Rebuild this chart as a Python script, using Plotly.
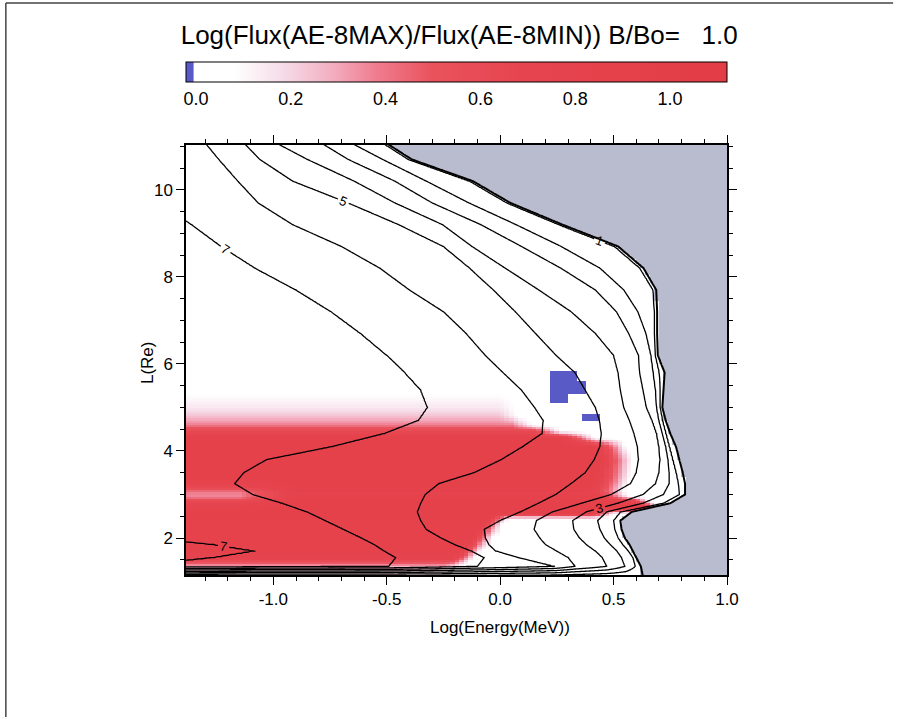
import numpy as np
import plotly.graph_objects as go

# ---------------- data ----------------
# rows (L, Earth radii) at which the flux contour crossings were read
L_rows = [1.35, 1.55, 1.70, 1.85, 2.00, 2.20, 2.40, 2.60, 2.80, 3.00, 3.25, 3.50,
          3.80, 4.10, 4.40, 4.70, 5.00, 5.40, 5.80, 6.20, 6.70, 7.20, 7.70, 8.20,
          8.70, 9.20, 9.70, 10.20, 10.70, 11.05]
# Log(Energy) where the log-flux contour of each level crosses each row
e7 = [-0.49, -0.46, -0.51, -0.555, -0.61, -0.69, -0.77, -0.85, -0.96, -1.09, -1.17, -1.13,
      -1.03, -0.74, -0.51, -0.36, -0.32, -0.35, -0.42, -0.50, -0.615, -0.745, -0.90, -1.08,
      -1.23, -1.36, -1.50, -1.65, -1.80, -1.90]
e6 = [-0.10, -0.07, -0.125, -0.20, -0.26, -0.326, -0.35, -0.365, -0.35, -0.33, -0.27, -0.115,
      0.005, 0.10, 0.185, 0.19, 0.152, 0.094, 0.013, -0.066, -0.15, -0.25, -0.40, -0.53,
      -0.70, -0.915, -1.067, -1.156, -1.24, -1.295]
e5 = [0.24, 0.08, -0.02, -0.05, -0.065, -0.07, 0.0, 0.09, 0.17, 0.246, 0.313, 0.375,
      0.415, 0.44, 0.446, 0.438, 0.42, 0.375, 0.33, 0.246, 0.156, 0.067, -0.03, -0.134,
      -0.25, -0.446, -0.67, -0.915, -1.06, -1.125]
e4 = [0.33, 0.30, 0.25, 0.20, 0.175, 0.15, 0.16, 0.23, 0.36, 0.49, 0.575, 0.60,
      0.61, 0.605, 0.59, 0.57, 0.545, 0.53, 0.52, 0.50, 0.42, 0.313, 0.17, 0.022,
      -0.125, -0.254, -0.464, -0.643, -0.85, -0.978]
e3 = [0.47, 0.45, 0.42, 0.38, 0.35, 0.325, 0.32, 0.38, 0.52, 0.63, 0.685, 0.70,
      0.705, 0.70, 0.69, 0.67, 0.645, 0.63, 0.615, 0.61, 0.567, 0.513, 0.42, 0.268,
      0.094, -0.085, -0.30, -0.464, -0.67, -0.78]
e2 = [0.55, 0.535, 0.515, 0.485, 0.46, 0.44, 0.43, 0.47, 0.63, 0.72, 0.745, 0.745,
      0.74, 0.73, 0.715, 0.70, 0.69, 0.685, 0.675, 0.665, 0.643, 0.607, 0.545, 0.44,
      0.268, 0.07, -0.138, -0.326, -0.518, -0.647]
e1 = [0.595, 0.585, 0.565, 0.54, 0.52, 0.505, 0.50, 0.53, 0.72, 0.79, 0.785, 0.775,
      0.76, 0.745, 0.73, 0.715, 0.705, 0.705, 0.70, 0.683, 0.68, 0.68, 0.674, 0.616,
      0.504, 0.26, 0.03, -0.134, -0.405, -0.51]
# right-hand edge of the computed data (grey beyond)
edge_E = [0.62, 0.60, 0.585, 0.57, 0.55, 0.535, 0.53, 0.58, 0.75, 0.815, 0.815, 0.805,
          0.79, 0.775, 0.75, 0.73, 0.715, 0.72, 0.725, 0.695, 0.692, 0.692, 0.688, 0.632,
          0.52, 0.275, 0.045, -0.12, -0.39, -0.495]
# small closed "7" lobe at the lower left (tip energy per row)
lobe_L = [1.45, 1.55, 1.70, 1.85, 1.95]
lobe_E = [-1.45, -1.26, -1.08, -1.26, -1.45]
lobe_peak = (-0.85, 7.4)
flux_high, flux_lobe = 8.0, 6.7
L_floor, floor_edge = 1.10, 0.63   # flux collapses below this L

# ratio log(Fmax/Fmin): rows, value at low energies, value at far left, end of red band
ratio_L    = [1.15, 1.25, 1.35, 1.45, 1.55, 1.70, 2.00, 2.30, 2.45, 2.55, 2.70, 2.85,
              2.95, 3.05, 3.15, 3.40, 3.80, 4.10, 4.30, 4.45, 4.60, 4.80, 5.00, 5.30,
              5.60, 11.05]
ratio_base = [0.16, 0.20, 0.30, 0.55, 0.75, 0.82, 0.85, 0.85, 0.85, 0.86, 0.88, 0.86,
              0.80, 0.78, 0.85, 0.88, 0.88, 0.88, 0.85, 0.62, 0.38, 0.24, 0.15, 0.08,
              0.05, 0.05]
ratio_left = [0.16, 0.20, 0.30, 0.55, 0.75, 0.82, 0.85, 0.85, 0.85, 0.86, 0.82, 0.62,
              0.36, 0.38, 0.62, 0.88, 0.88, 0.88, 0.85, 0.62, 0.38, 0.24, 0.15, 0.08,
              0.05, 0.05]
red_end    = [-0.30, -0.30, -0.25, -0.22, -0.20, -0.17, -0.12, -0.08, -0.05, 0.40, 0.64, 0.58,
              0.44, 0.40, 0.40, 0.42, 0.44, 0.42, 0.28, 0.15, 0.05, 0.0, 0.0, 0.0,
              0.0, 0.0]
red_fade   = [0.09, 0.09, 0.09, 0.09, 0.09, 0.09, 0.09, 0.09, 0.09, 0.10, 0.06, 0.08,
              0.14, 0.16, 0.16, 0.16, 0.15, 0.14, 0.14, 0.12, 0.10, 0.09, 0.09, 0.09,
              0.09, 0.09]
white_level = 0.05
# blue (negative ratio) patches: (E0, E1, L0, L1)
blue_patches = [(0.23, 0.33, 5.60, 5.85), (0.23, 0.37, 5.30, 5.60),
                (0.23, 0.30, 5.10, 5.30), (0.37, 0.43, 4.68, 4.83)]
blue_value = -0.02

cbar_ticks = [0.0, 0.2, 0.4, 0.6, 0.8, 1.0]
cbar_labels = ["0.0", "0.2", "0.4", "0.6", "0.8", "1.0"]
x_ticks = [-1.0, -0.5, 0.0, 0.5, 1.0]
x_labels = ["-1.0", "-0.5", "0.0", "0.5", "1.0"]
y_ticks = [2, 4, 6, 8, 10]
y_labels = ["2", "4", "6", "8", "10"]

# ---------------- build grids ----------------
E_fine = np.round(np.arange(-1.45, 1.0501, 0.005), 4)
L_fine = np.round(np.arange(L_rows[0], L_rows[-1] + 1e-6, 0.025), 4)
levels = [7, 6, 5, 4, 3, 2, 1]
cross = [np.interp(L_fine, L_rows, c) for c in [e7, e6, e5, e4, e3, e2, e1]]
edge_f = np.interp(L_fine, L_rows, edge_E)
lobe_f = np.interp(L_fine, lobe_L, lobe_E)

flux_rows = [np.zeros_like(E_fine)]
for i, L in enumerate(L_fine):
    in_lobe = lobe_L[0] < L < lobe_L[-1]
    ks = [(-2.5, flux_lobe if in_lobe else flux_high)]
    if in_lobe:
        ks += [(lobe_f[i], 7.0), lobe_peak]
    ks += [(cross[k][i], levels[k]) for k in range(7)]
    ks += [(edge_f[i], 0.7), (1.6, 0.0)]
    ks.sort()
    flux_rows.append(np.interp(E_fine, [k[0] for k in ks], [k[1] for k in ks]))
flux = np.array(flux_rows)
L_all = np.concatenate([[L_floor], L_fine])
edge_all = np.concatenate([[floor_edge], edge_f])
edge_field = E_fine[None, :] - edge_all[:, None]

# ratio heatmap
E_c = np.round(np.arange(-1.39, 1.0, 0.02), 3)
L_c = np.round(np.arange(1.175, 11.04, 0.05), 3)
prof = []
for i in range(len(ratio_L)):
    xs = [-3, -1.15, -0.9, red_end[i], red_end[i] + red_fade[i], 3]
    ys = [ratio_left[i], ratio_left[i], ratio_base[i], ratio_base[i], white_level, white_level]
    prof.append(np.interp(E_c, xs, ys))
prof = np.array(prof)
Z = np.array([np.interp(L_c, ratio_L, prof[:, j]) for j in range(len(E_c))]).T
EE, LL = np.meshgrid(E_c, L_c)
for (a, b, c, d) in blue_patches:
    Z[(EE >= a) & (EE <= b) & (LL >= c) & (LL <= d)] = blue_value
edge_at = np.interp(L_c, L_all, edge_all)
Z[EE > edge_at[:, None]] = np.nan

# ---------------- figure ----------------
zmin, zmax = -0.021, 1.12
def p(v):
    return (v - zmin) / (zmax - zmin)
cscale = [[0.0, "#5a5ac6"], [p(-0.006), "#5a5ac6"], [p(-0.004), "#ffffff"],
          [p(0.08), "#ffffff"], [p(0.18), "#f6dde9"], [p(0.28), "#f3b2c4"],
          [p(0.38), "#ef7d8f"], [p(0.50), "#e9525c"], [p(0.70), "#e6444e"],
          [1.0, "#e23d47"]]

FONT = "Liberation Sans, Arial, Helvetica, sans-serif"
fig = go.Figure()
fig.add_trace(go.Heatmap(
    x=E_c, y=L_c, z=Z, zmin=zmin, zmax=zmax, colorscale=cscale, zsmooth=False,
    hoverongaps=False,
    colorbar=dict(orientation="h", x=0, xanchor="left", len=1, lenmode="fraction",
                  thickness=20, thicknessmode="pixels", y=1.193, yanchor="top",
                  xpad=0, ypad=0, outlinewidth=1, outlinecolor="black",
                  tickvals=cbar_ticks, ticktext=cbar_labels, ticks="",
                  tickfont=dict(size=18, color="black", family=FONT))))

black = [[0, "black"], [1, "black"]]
fig.add_trace(go.Contour(
    x=E_fine, y=L_all, z=flux, showscale=False, colorscale=black,
    contours=dict(start=1, end=7, size=2, coloring="lines", showlabels=True,
                  labelfont=dict(size=13, color="black", family=FONT), labelformat=".0f"),
    line=dict(width=1.3, smoothing=1), hoverinfo="skip"))
fig.add_trace(go.Contour(
    x=E_fine, y=L_all, z=flux, showscale=False, colorscale=black,
    contours=dict(start=2, end=6, size=2, coloring="lines", showlabels=False),
    line=dict(width=1.3, smoothing=1), hoverinfo="skip"))
fig.add_trace(go.Contour(
    x=E_fine, y=L_all, z=edge_field, showscale=False, colorscale=black,
    contours=dict(start=0, end=0, size=1, coloring="lines", showlabels=False),
    line=dict(width=2), hoverinfo="skip"))

axis_common = dict(showgrid=False, zeroline=False, showline=True, linecolor="black",
                   linewidth=1.5, ticks="outside", ticklen=8, tickwidth=1.2,
                   tickcolor="black", mirror="allticks",
                   tickfont=dict(size=17, color="black", family=FONT))
fig.update_xaxes(range=[-1.385, 1.0], tickvals=x_ticks, ticktext=x_labels,
                 minor=dict(dtick=0.1, tick0=0, ticks="outside", ticklen=4,
                            tickcolor="black"), **axis_common)
fig.update_yaxes(range=[1.15, 11.03], tickvals=y_ticks, ticktext=y_labels,
                 minor=dict(dtick=0.5, tick0=0, ticks="outside", ticklen=4,
                            tickcolor="black"), **axis_common)

fig.update_layout(
    width=897, height=719, autosize=False,
    margin=dict(l=186, r=170, t=145, b=144),
    paper_bgcolor="white", plot_bgcolor="#b9bbcf",
    font=dict(family=FONT, color="black"),
    title=dict(text="Log(Flux(AE-8MAX)/Flux(AE-8MIN)) B/Bo=\u00a0\u00a0\u00a01.0",
               x=0.505, xref="paper", xanchor="center", y=1 - 35 / 719,
               yref="container", yanchor="middle",
               font=dict(size=26, color="black", family=FONT)),
    showlegend=False,
    annotations=[
        dict(text="Log(Energy(MeV))", x=0.0, xref="x", y=-0.123, yref="paper",
             showarrow=False, xanchor="center", yanchor="middle",
             font=dict(size=17, color="black", family=FONT)),
        dict(text="L(Re)", x=-0.072, xref="paper", y=0.493, yref="paper",
             showarrow=False, textangle=-90, xanchor="center", yanchor="middle",
             font=dict(size=17, color="black", family=FONT)),
    ],
    shapes=[
        dict(type="line", xref="paper", yref="paper", x0=-0.333, x1=1.307,
             y0=1.330, y1=1.330, line=dict(color="#444", width=1.5)),
        dict(type="line", xref="paper", yref="paper", x0=-0.333, x1=-0.333,
             y0=1.330, y1=-0.33, line=dict(color="#444", width=1.5)),
    ],
)
fig.write_html("out.html")
